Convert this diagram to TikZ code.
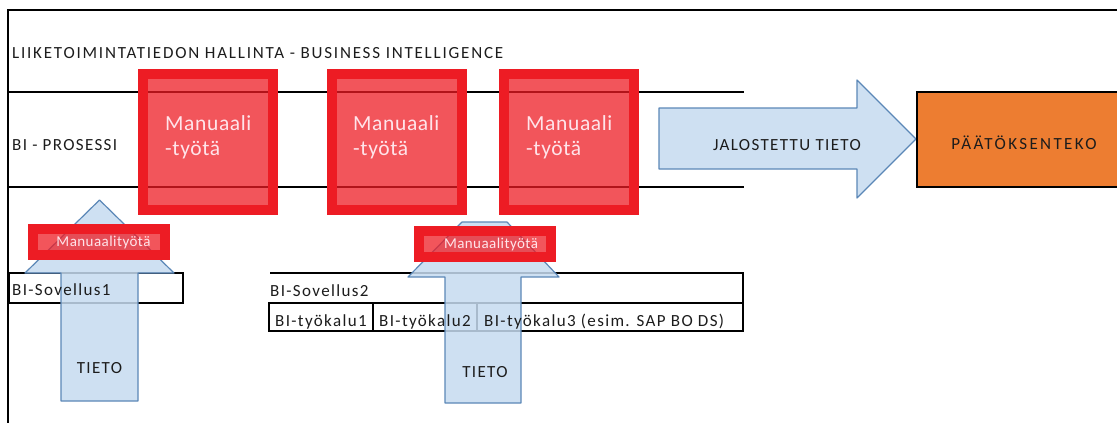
\documentclass[tikz,border=0pt]{standalone}
\usepackage{fontspec}
\setmainfont{Carlito}
\newfontfamily\lblfont[LetterSpace=8]{Carlito}
\newfontfamily\widefont[LetterSpace=10.5]{Carlito}
\newfontfamily\widerfont[LetterSpace=14]{Carlito}
\newfontfamily\boxfont[LetterSpace=3]{Carlito}
\definecolor{bired}{HTML}{ED1C24}
\definecolor{biblue}{HTML}{C6DBF0}
\definecolor{biblueline}{HTML}{5B87B7}
\definecolor{biorange}{HTML}{ED7D31}
\definecolor{pinktext}{HTML}{FFE4EA}
\definecolor{ink}{HTML}{1C1C1C}
\tikzset{
  lbl/.style={inner sep=0pt, text=ink, font={\lblfont\fontsize{17}{20}\selectfont}, anchor=base west},
  lblc/.style={lbl, anchor=base},
  bigbox/.style={draw=bired, line width=10pt, fill=bired, fill opacity=0.75,
    minimum width=130pt, minimum height=136pt, inner sep=0pt},
  smallbox/.style={draw=bired, line width=10pt, fill=bired, fill opacity=0.75,
    minimum width=132pt, minimum height=26pt, inner sep=0pt},
  boxtext/.style={inner sep=0pt, text=pinktext, font={\boxfont\fontsize{21.5}{26}\selectfont}, anchor=base west},
  smalltext/.style={inner sep=0pt, text=pinktext, font={\boxfont\fontsize{15}{18}\selectfont}, anchor=base},
  blockarrow/.style={draw=biblueline, line width=1.2pt, fill=biblue, fill opacity=0.85, line join=round},
  frame/.style={draw=black, line width=2pt},
  rowline/.style={draw=black, line width=1.3pt},
  cell/.style={draw=black, line width=1.5pt},
  thickcell/.style={draw=black, line width=2.6pt}
}
\begin{document}
\begin{tikzpicture}[x=1pt, y=-1pt]
\useasboundingbox (0,0) rectangle (1117,423);
\clip (0,0) rectangle (1117,423);

% outer frame (top and left edges)
\draw[frame] (8,423) -- (8,10) -- (1117,10);

% title and process row
\node[lbl, font={\widefont\fontsize{17}{20}\selectfont}] (title) at (12,58.5)
  {LIIKETOIMINTATIEDON HALLINTA - BUSINESS INTELLIGENCE};
\draw[rowline] (8,92) -- (744,92);
\draw[rowline] (8,187) -- (744,187);
\node[lbl] (process) at (12,150.5) {BI - PROSESSI};

% application 1
\draw[cell] (9,273) rectangle (183,303);
\draw[thickcell] (9,273) -- (183,273) -- (183,303);

% application 2 and its tools
\draw[thickcell] (270,273) -- (743,273) -- (743,303);
\draw[cell] (269,303) rectangle (743,331);
\draw[thickcell] (373,303) -- (373,331);
\draw[thickcell] (477,303) -- (477,331);

% data arrows pointing up
\draw[blockarrow] (61,401) -- (61,273) -- (25,273) -- (99.5,200) -- (174,273)
  -- (138,273) -- (138,401) -- cycle;
\draw[blockarrow] (445,403) -- (445,277) -- (408,277) -- (462,222) -- (507,222)
  -- (559,277) -- (521,277) -- (521,403) -- cycle;

% application labels
\node[lbl] (app1) at (12,295) {BI-Sovellus1};
\node[lbl] (app2) at (270,296) {BI-Sovellus2};
\node[lbl] (tool1) at (275,326) {BI-työkalu1};
\node[lbl] (tool2) at (379,326) {BI-työkalu2};
\node[lbl] (tool3) at (484,326) {BI-työkalu3 (esim. SAP BO DS)};

% manual work in the process
\node[bigbox] (m1) at (208,142) {};
\node[bigbox] (m2) at (396.5,142) {};
\node[bigbox] (m3) at (568.5,142) {};
\node[boxtext] (m1a) at (165,130) {Manuaali};
\node[boxtext] (m1b) at (165,155) {-työtä};
\node[boxtext] (m2a) at (353,130) {Manuaali};
\node[boxtext] (m2b) at (353,155) {-työtä};
\node[boxtext] (m3a) at (526,130) {Manuaali};
\node[boxtext] (m3b) at (526,155) {-työtä};

% refined information to decision making
\draw[blockarrow] (659,108) -- (857,108) -- (857,80) -- (916,139) -- (857,198)
  -- (857,169) -- (659,169) -- cycle;
\node[lblc] (refined) at (787,150) {JALOSTETTU TIETO};
\node[draw=black, line width=1.5pt, fill=biorange, minimum width=213pt,
  minimum height=95pt, inner sep=0pt] (decision) at (1023.5,139.5) {};
\node[lblc, font={\widerfont\fontsize{17}{20}\selectfont}] (decisiontext) at (1024,149) {PÄÄTÖKSENTEKO};

% manual work at the sources
\node[smallbox] (s1) at (99,242) {};
\node[smallbox] (s2) at (485,244) {};
\node[smalltext] (s1t) at (103.5,246) {Manuaalityötä};
\node[smalltext] (s2t) at (491,248) {Manuaalityötä};

% data labels
\node[lblc] (data1) at (99.5,373) {TIETO};
\node[lblc] (data2) at (485,377) {TIETO};
\end{tikzpicture}
\end{document}
